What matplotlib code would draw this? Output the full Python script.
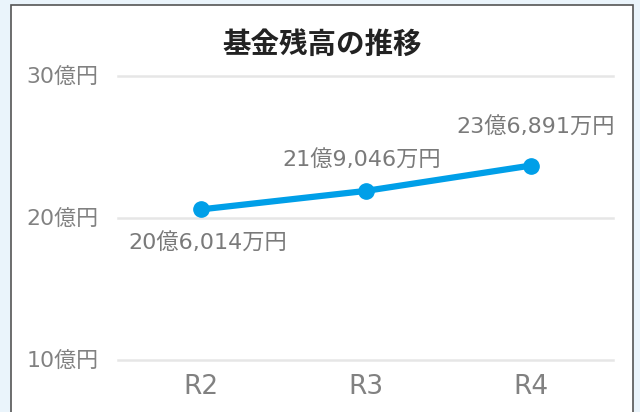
import matplotlib.pyplot as plt
from matplotlib.patches import Rectangle

plt.rcParams['font.family'] = ['DejaVu Sans', 'Noto Sans CJK JP']

years = ['R2', 'R3', 'R4']
balance = [20.6014, 21.9046, 23.6891]  # 億円
labels = ['20億6,014万円', '21億9,046万円', '23億6,891万円']
yticks = [10, 20, 30]
ytick_labels = ['10億円', '20億円', '30億円']

fig = plt.figure(figsize=(6.4, 4.12), dpi=100)
fig.patch.set_facecolor('#eaf4fb')
W, H = 640, 412

# white panel with thin border
fig.patches.append(Rectangle((11 / W, -0.05), 622 / W, 1.05 - 5 / H,
                             transform=fig.transFigure, facecolor='white',
                             edgecolor='#555555', linewidth=1.2, zorder=-5))

ax = fig.add_axes([118 / W, (H - 360) / H, 495 / W, 284 / H])
ax.set_facecolor('none')
x = range(len(years))
ax.plot(x, balance, color='#009fe8', linewidth=4.5, marker='o',
        markersize=11, zorder=3, clip_on=False)

offsets = [(5, -24), (-3, 22.3), (4, 27.8)]
for i, (v, t) in enumerate(zip(balance, labels)):
    ax.annotate(t, (i, v), xytext=offsets[i], textcoords='offset points',
                ha='center', va='center', fontsize=16, color='#7a7a7a')

ax.set_xlim(-0.5, 2.5)
ax.set_ylim(10, 30)
ax.set_xticks(list(x))
ax.set_xticklabels(years, fontsize=19)
ax.set_yticks(yticks)
ax.set_yticklabels(ytick_labels, fontsize=15.8)
ax.tick_params(length=0, labelcolor='#818181')
ax.tick_params(axis='x', pad=10)
ax.tick_params(axis='y', pad=14)
ax.grid(axis='y', color='#e6e6e6', linewidth=1.8)
for gl in ax.get_ygridlines():
    gl.set_clip_on(False)
ax.set_axisbelow(True)
for s in ax.spines.values():
    s.set_visible(False)

fig.text(322 / W, 1 - 45 / H, '基金残高の推移', ha='center', va='center',
         fontsize=20.5, fontweight='bold', color='#222222',
         family='Noto Sans CJK JP')

fig.savefig('out.png', dpi=100, facecolor=fig.get_facecolor())
